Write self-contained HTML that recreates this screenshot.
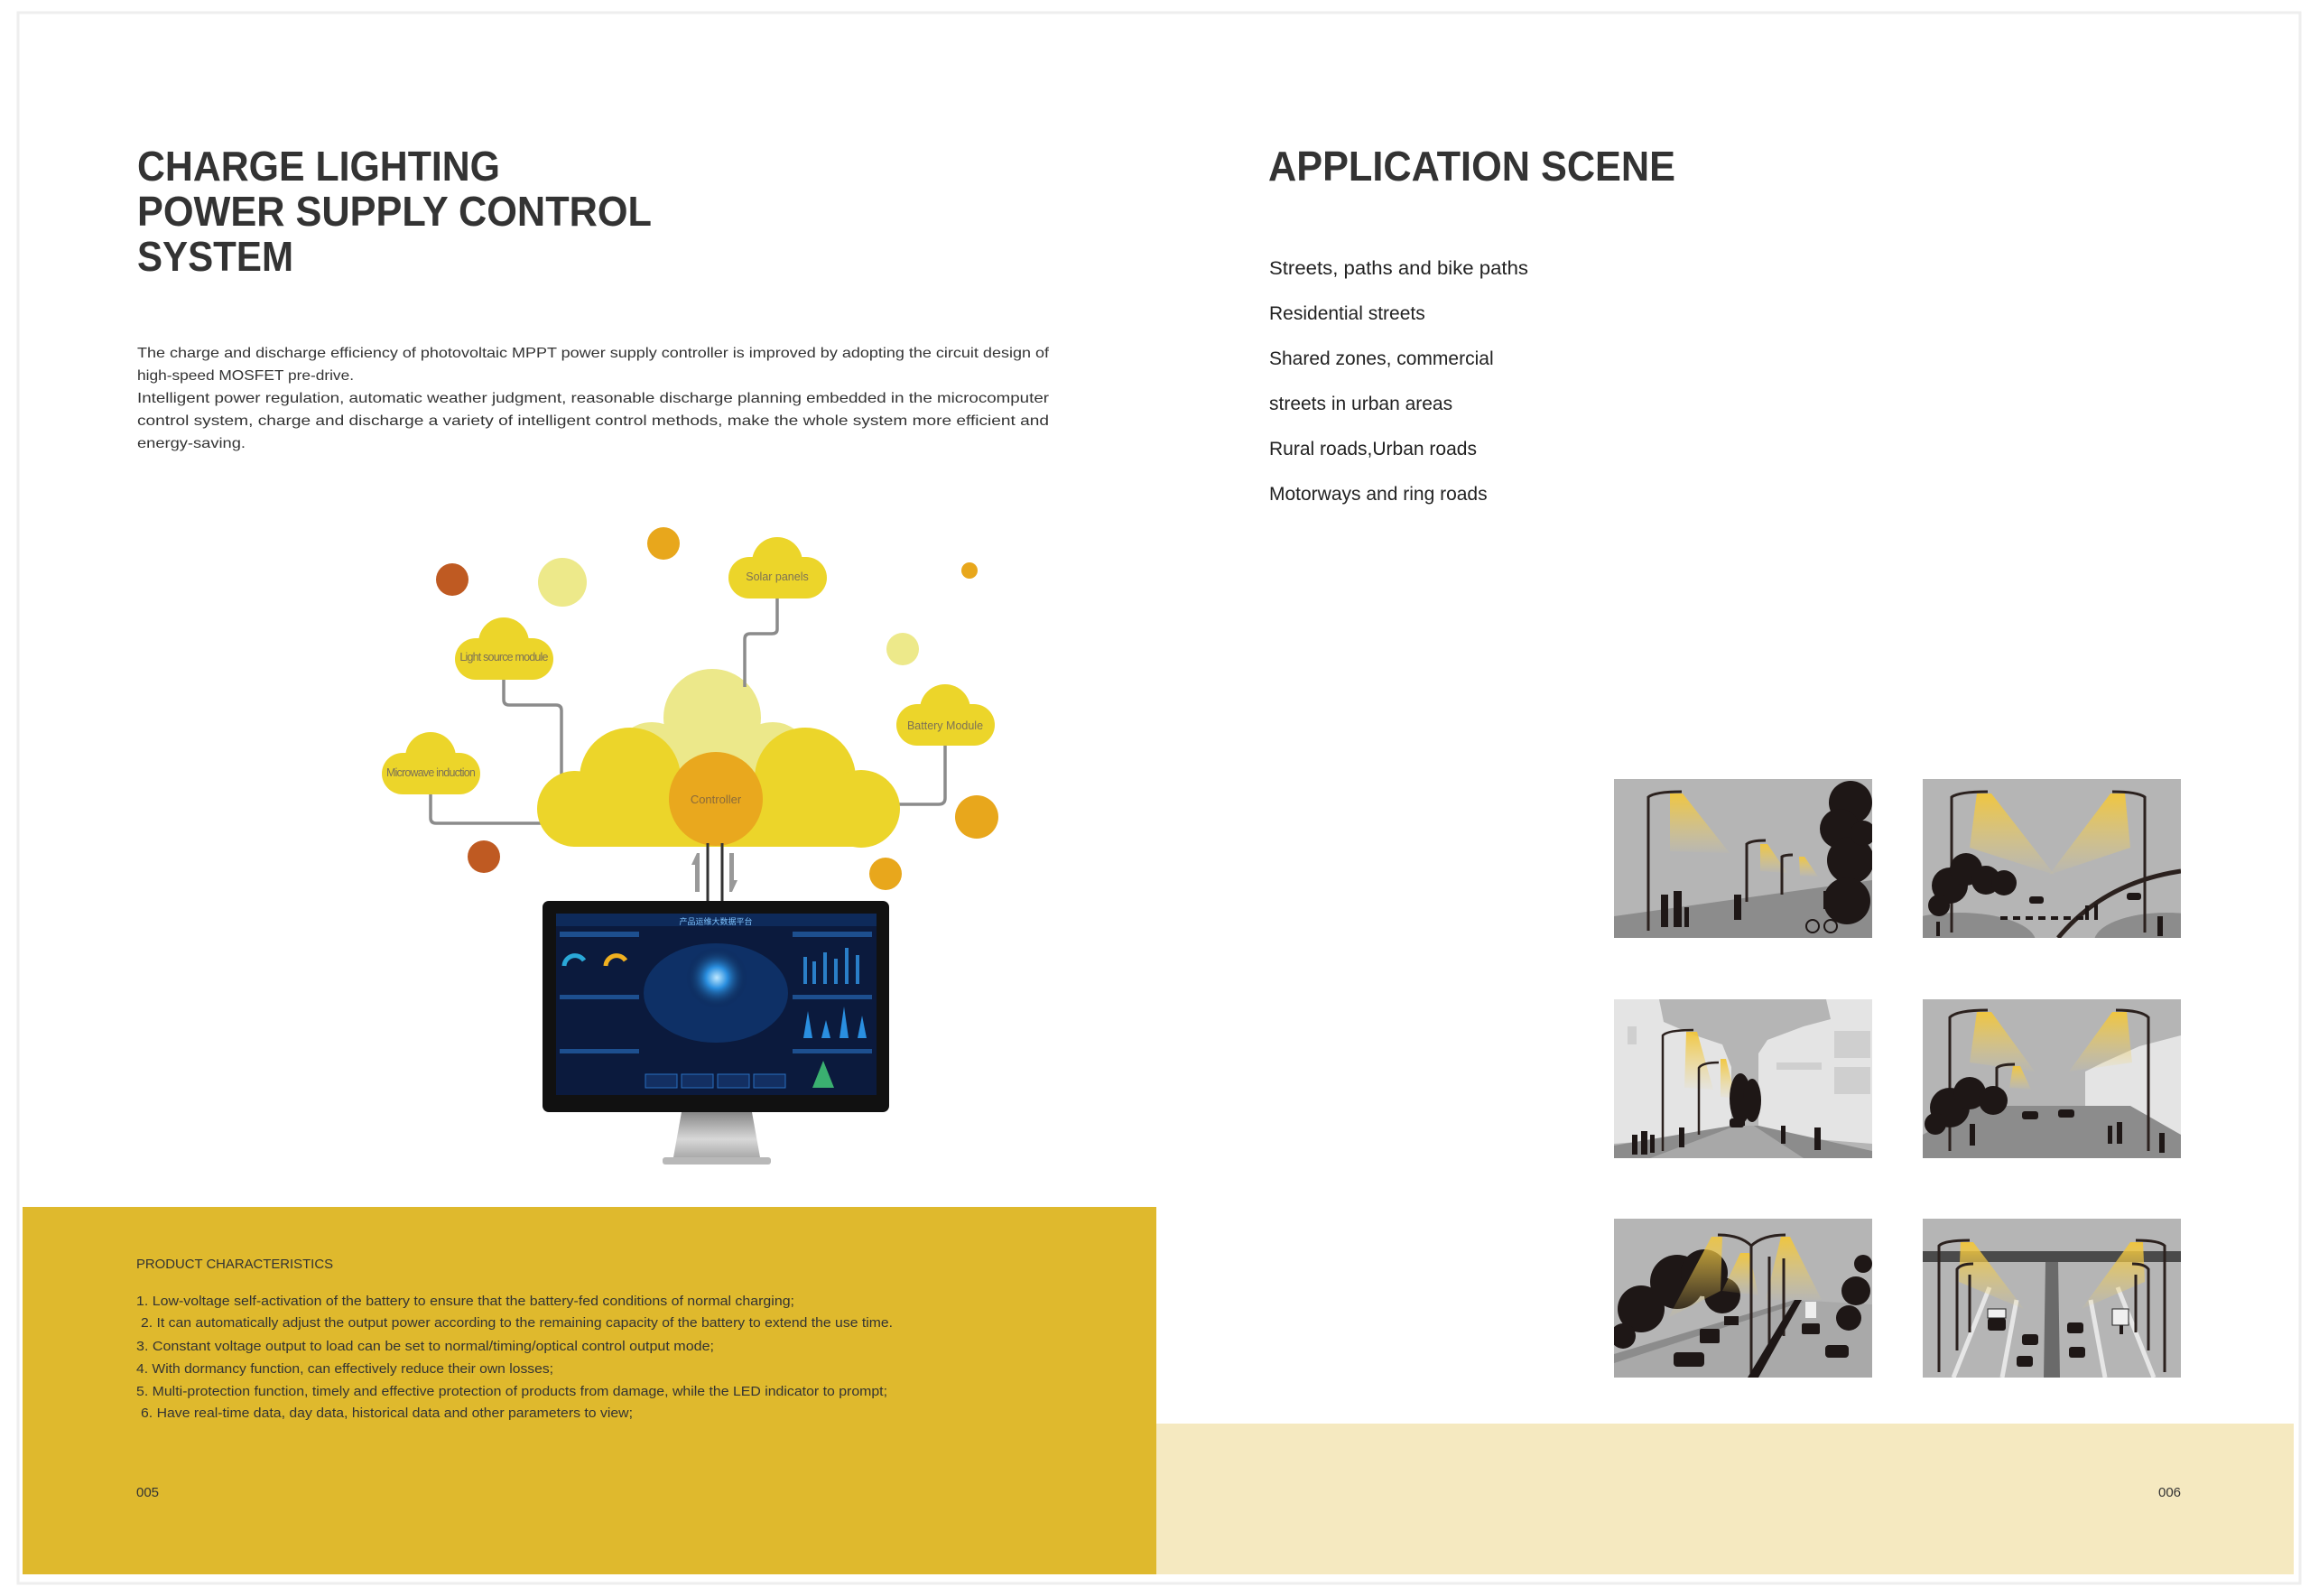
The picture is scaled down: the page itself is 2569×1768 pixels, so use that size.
<!DOCTYPE html>
<html><head><meta charset="utf-8"><style>
html,body{margin:0;padding:0;background:#fff;}
svg{display:block;}
text{font-family:"Liberation Sans","Noto Sans CJK SC",sans-serif;}
</style></head><body>
<svg width="2569" height="1768" viewBox="0 0 2569 1768" xmlns="http://www.w3.org/2000/svg">
<defs>
<linearGradient id="cone" x1="0" y1="0" x2="0" y2="1">
<stop offset="0" stop-color="#f2c63a" stop-opacity="0.95"/><stop offset="1" stop-color="#f2d46a" stop-opacity="0.05"/></linearGradient>
<radialGradient id="glow" cx="0.5" cy="0.5" r="0.5">
<stop offset="0" stop-color="#bfe8ff"/><stop offset="0.35" stop-color="#2a8fe0"/><stop offset="1" stop-color="#0b1a3d" stop-opacity="0"/></radialGradient>
<linearGradient id="stand" x1="0" y1="0" x2="0" y2="1"><stop offset="0" stop-color="#888"/><stop offset="0.6" stop-color="#d8d8d8"/><stop offset="1" stop-color="#aaa"/></linearGradient>
<clipPath id="sc"><rect width="286" height="176"/></clipPath>
</defs>
<rect width="2569" height="1768" fill="#fff"/>
<rect x="20" y="14" width="2528" height="1740" fill="none" stroke="#eee" stroke-width="3"/>
<rect x="25" y="1337" width="1256" height="407" fill="#dfb92d"/>
<rect x="1281" y="1577" width="1260" height="167" fill="#f5e9c0"/>

<g fill="#333" font-weight="bold" font-size="46">
<text x="152" y="200" textLength="402" lengthAdjust="spacingAndGlyphs">CHARGE LIGHTING</text>
<text x="152" y="250" textLength="570" lengthAdjust="spacingAndGlyphs">POWER SUPPLY CONTROL</text>
<text x="152" y="300" textLength="173" lengthAdjust="spacingAndGlyphs">SYSTEM</text>
<text x="1405" y="200" textLength="451" lengthAdjust="spacingAndGlyphs">APPLICATION SCENE</text>
</g>
<g fill="#333" font-size="16">
<text x="152" y="396" textLength="1010" lengthAdjust="spacingAndGlyphs">The charge and discharge efficiency of photovoltaic MPPT power supply controller is improved by adopting the circuit design of</text>
<text x="152" y="421" textLength="240" lengthAdjust="spacingAndGlyphs">high-speed MOSFET pre-drive.</text>
<text x="152" y="446" textLength="1010" lengthAdjust="spacingAndGlyphs">Intelligent power regulation, automatic weather judgment, reasonable discharge planning embedded in the microcomputer</text>
<text x="152" y="471" textLength="1010" lengthAdjust="spacingAndGlyphs">control system, charge and discharge a variety of intelligent control methods, make the whole system more efficient and</text>
<text x="152" y="496" textLength="120" lengthAdjust="spacingAndGlyphs">energy-saving.</text>
</g>
<g fill="#222" font-size="21">
<text x="1406" y="304" textLength="287" lengthAdjust="spacingAndGlyphs">Streets, paths and bike paths</text>
<text x="1406" y="354">Residential streets</text>
<text x="1406" y="404">Shared zones, commercial</text>
<text x="1406" y="454">streets in urban areas</text>
<text x="1406" y="504">Rural roads,Urban roads</text>
<text x="1406" y="554">Motorways and ring roads</text>
</g>
<g fill="#333" font-size="15">
<text x="151" y="1405" textLength="218" lengthAdjust="spacingAndGlyphs">PRODUCT CHARACTERISTICS</text>
<text x="151" y="1446" textLength="729" lengthAdjust="spacingAndGlyphs">1. Low-voltage self-activation of the battery to ensure that the battery-fed conditions of normal charging;</text>
<text x="156" y="1470" textLength="833" lengthAdjust="spacingAndGlyphs">2. It can automatically adjust the output power according to the remaining capacity of the battery to extend the use time.</text>
<text x="151" y="1496" textLength="640" lengthAdjust="spacingAndGlyphs">3. Constant voltage output to load can be set to normal/timing/optical control output mode;</text>
<text x="151" y="1521" textLength="462" lengthAdjust="spacingAndGlyphs">4. With dormancy function, can effectively reduce their own losses;</text>
<text x="151" y="1546" textLength="832" lengthAdjust="spacingAndGlyphs">5. Multi-protection function, timely and effective protection of products from damage, while the LED indicator to prompt;</text>
<text x="156" y="1570" textLength="545" lengthAdjust="spacingAndGlyphs">6. Have real-time data, day data, historical data and other parameters to view;</text>
<text x="151" y="1658">005</text>
<text x="2391" y="1658">006</text>
</g>

<g>
<circle cx="735" cy="602" r="18" fill="#e8a71c"/>
<circle cx="501" cy="642" r="18" fill="#bf5a22"/>
<circle cx="623" cy="645" r="27" fill="#ede98a"/>
<circle cx="1074" cy="632" r="9" fill="#e8a71c"/>
<circle cx="1000" cy="719" r="18" fill="#ede98a"/>
<circle cx="1082" cy="905" r="24" fill="#e8a71c"/>
<circle cx="981" cy="968" r="18" fill="#e8a71c"/>
<circle cx="536" cy="949" r="18" fill="#bf5a22"/>
<g fill="#ece88a"><circle cx="789" cy="795" r="54"/><circle cx="722" cy="842" r="42"/><circle cx="856" cy="842" r="42"/></g>
<g fill="none" stroke="#8b8b8b" stroke-width="3.5" stroke-linejoin="round">
<path d="M861 663 V697 Q861 702 855 702 H831 Q825 702 825 708 V761"/>
<path d="M558 752 V775 Q558 781 564 781 H616 Q622 781 622 787 V864"/>
<path d="M477 879 V906 Q477 912 483 912 H605"/>
<path d="M1047 826 V884 Q1047 891 1040 891 H990"/>
</g>
<g fill="#ecd52a">
<circle cx="637" cy="896" r="42"/><circle cx="698" cy="862" r="56"/><circle cx="892" cy="862" r="56"/><circle cx="954" cy="896" r="43"/>
<rect x="637" y="880" width="318" height="58"/>
</g>
<circle cx="793" cy="885" r="52" fill="#e9a81e"/>
<text x="793" y="890" text-anchor="middle" font-size="13" fill="#8a6a3a">Controller</text>
<g fill="#ecd52a">
<circle cx="861" cy="623" r="28"/><rect x="807" y="617" width="109" height="46" rx="23"/>
<circle cx="558" cy="712" r="28"/><rect x="504" y="707" width="109" height="46" rx="23"/>
<circle cx="477" cy="839" r="28"/><rect x="423" y="834" width="109" height="46" rx="23"/>
<circle cx="1047" cy="786" r="28"/><rect x="993" y="780" width="109" height="46" rx="23"/>
</g>
<g font-size="12.5" fill="#7d7255" text-anchor="middle">
<text x="861" y="643">Solar panels</text>
<text x="558" y="732" letter-spacing="-0.8">Light source module</text>
<text x="477" y="860" letter-spacing="-0.8">Microwave induction</text>
<text x="1047" y="808">Battery Module</text>
</g>
<g stroke="#333" stroke-width="3"><line x1="784" y1="934" x2="784" y2="998"/><line x1="800" y1="934" x2="800" y2="998"/></g>
<polygon points="772,945 766,958 770,958 770,988 775,988 775,945" fill="#999"/>
<polygon points="811,988 817,975 813,975 813,945 808,945 808,988" fill="#999"/>
<polygon points="755,1232 833,1232 842,1282 746,1282" fill="url(#stand)"/>
<rect x="734" y="1282" width="120" height="8" rx="3" fill="#b8b8b8"/>
<rect x="601" y="998" width="384" height="234" rx="7" fill="#111"/>
<rect x="616" y="1012" width="355" height="201" fill="#0b1a3d"/>
<rect x="616" y="1012" width="355" height="14" fill="#0e2a5a"/>
<text x="793" y="1024" text-anchor="middle" font-size="9" fill="#7fc4ff">产品运维大数据平台</text>
<ellipse cx="793" cy="1100" rx="80" ry="55" fill="#0f3a78" opacity="0.7"/>
<circle cx="794" cy="1083" r="34" fill="url(#glow)"/>
<g fill="#1d4f8f"><rect x="620" y="1032" width="88" height="6"/><rect x="878" y="1032" width="88" height="6"/><rect x="620" y="1102" width="88" height="5"/><rect x="878" y="1102" width="88" height="5"/><rect x="620" y="1162" width="88" height="5"/><rect x="878" y="1162" width="88" height="5"/></g>
<g fill="none" stroke-width="5"><path d="M625 1070 a12 12 0 0 1 22 -6" stroke="#2aa8d8"/><path d="M671 1070 a12 12 0 0 1 22 -6" stroke="#f0b020"/></g>
<g fill="#2a7fc8"><rect x="890" y="1060" width="4" height="30"/><rect x="900" y="1065" width="4" height="25"/><rect x="912" y="1055" width="4" height="35"/><rect x="924" y="1062" width="4" height="28"/><rect x="936" y="1050" width="4" height="40"/><rect x="948" y="1058" width="4" height="32"/></g>
<g fill="#2a8fe0"><polygon points="890,1150 895,1120 900,1150"/><polygon points="910,1150 915,1130 920,1150"/><polygon points="930,1150 935,1115 940,1150"/><polygon points="950,1150 955,1125 960,1150"/></g>
<polygon points="900,1205 912,1175 924,1205" fill="#3ab070"/>
<g fill="#132f62" stroke="#2a6fc0"><rect x="715" y="1190" width="35" height="15"/><rect x="755" y="1190" width="35" height="15"/><rect x="795" y="1190" width="35" height="15"/><rect x="835" y="1190" width="35" height="15"/></g>
</g>

<!-- 1 -->
<g transform="translate(1788,863)"><g clip-path="url(#sc)">
<rect width="286" height="176" fill="#b5b5b5"/>
<polygon points="0,152 286,112 286,176 0,176" fill="#8c8c8c"/>
<polygon points="62,16 76,16 128,82 62,80" fill="url(#cone)"/>
<polygon points="162,72 170,72 192,104 162,102" fill="url(#cone)"/>
<polygon points="205,86 211,86 226,108 206,107" fill="url(#cone)"/>
<g stroke="#2b211e" stroke-width="3" fill="none"><path d="M38 168 V20 Q45 14 75 14"/><path d="M147 136 V72 Q152 68 168 68"/><path d="M186 128 V86 Q189 84 198 84"/></g>
<g fill="#1e1716"><circle cx="262" cy="26" r="24"/><circle cx="250" cy="55" r="22"/><circle cx="262" cy="90" r="26"/><circle cx="258" cy="135" r="26"/><circle cx="276" cy="60" r="14"/>
<rect x="52" y="128" width="8" height="36"/><rect x="66" y="124" width="9" height="40"/><rect x="78" y="142" width="5" height="22"/><rect x="133" y="128" width="8" height="28"/><rect x="232" y="124" width="5" height="20"/></g>
<g fill="none" stroke="#1e1716" stroke-width="2"><circle cx="220" cy="163" r="7"/><circle cx="240" cy="163" r="7"/></g>
</g></g>
<!-- 2 -->
<g transform="translate(2130,863)"><g clip-path="url(#sc)">
<rect width="286" height="176" fill="#b5b5b5"/>
<ellipse cx="40" cy="180" rx="85" ry="32" fill="#8c8c8c"/><ellipse cx="270" cy="180" rx="80" ry="32" fill="#8c8c8c"/>
<polygon points="60,16 76,16 146,106 52,76" fill="url(#cone)"/>
<polygon points="208,16 224,16 230,76 140,106" fill="url(#cone)"/>
<g stroke="#2b211e" stroke-width="3" fill="none"><path d="M32 170 V20 Q40 14 72 14"/><path d="M246 170 V20 Q238 14 210 14"/><path d="M150 176 Q200 115 286 102" stroke-width="5"/></g>
<g fill="#1e1716"><circle cx="30" cy="118" r="20"/><circle cx="48" cy="100" r="18"/><circle cx="70" cy="112" r="16"/><circle cx="90" cy="115" r="14"/><circle cx="18" cy="140" r="12"/>
<rect x="118" y="130" width="16" height="8" rx="3"/><rect x="226" y="126" width="16" height="8" rx="3"/><rect x="260" y="152" width="6" height="22"/><rect x="15" y="158" width="4" height="16"/>
<rect x="180" y="140" width="4" height="16"/><rect x="190" y="138" width="4" height="18"/></g>
<g fill="#1e1716"><rect x="86" y="152" width="8" height="4"/><rect x="100" y="152" width="8" height="4"/><rect x="114" y="152" width="8" height="4"/><rect x="128" y="152" width="8" height="4"/><rect x="142" y="152" width="8" height="4"/><rect x="156" y="152" width="8" height="4"/><rect x="170" y="152" width="8" height="4"/></g>
</g></g>
<!-- 3 -->
<g transform="translate(1788,1107)"><g clip-path="url(#sc)">
<rect width="286" height="176" fill="#b5b5b5"/>
<polygon points="0,0 50,0 55,25 90,40 120,50 130,75 130,150 0,160" fill="#e4e4e4"/>
<polygon points="286,0 235,0 240,22 210,30 170,45 160,60 160,150 286,160" fill="#e4e4e4"/>
<g fill="#cfcfcf"><rect x="15" y="30" width="10" height="20"/><rect x="244" y="35" width="40" height="30"/><rect x="244" y="75" width="40" height="30"/><rect x="180" y="70" width="50" height="8"/></g>
<polygon points="0,176 0,162 130,140 160,140 286,168 286,176" fill="#8c8c8c"/>
<polygon points="40,176 135,140 155,140 210,176" fill="#a8a8a8"/>
<polygon points="80,36 92,36 110,100 78,98" fill="url(#cone)"/>
<polygon points="118,66 124,66 135,110 118,108" fill="url(#cone)"/>
<g stroke="#2b211e" stroke-width="2.5" fill="none"><path d="M54 168 V40 Q60 34 88 34"/><path d="M94 150 V76 Q98 70 116 70"/></g>
<g fill="#1e1716"><ellipse cx="140" cy="110" rx="12" ry="28"/><ellipse cx="153" cy="112" rx="10" ry="24"/><rect x="142" y="110" width="3" height="30"/>
<rect x="128" y="132" width="16" height="10" rx="3"/><rect x="20" y="150" width="6" height="22"/><rect x="30" y="146" width="7" height="26"/><rect x="40" y="150" width="5" height="20"/><rect x="72" y="142" width="6" height="22"/><rect x="185" y="140" width="5" height="20"/><rect x="222" y="142" width="7" height="25"/></g>
</g></g>
<!-- 4 -->
<g transform="translate(2130,1107)"><g clip-path="url(#sc)">
<rect width="286" height="176" fill="#b5b5b5"/>
<polygon points="286,40 240,52 200,70 180,80 180,125 286,150" fill="#e4e4e4"/>
<polygon points="0,150 60,118 230,118 286,150 286,176 0,176" fill="#8c8c8c"/>
<polygon points="60,14 76,14 124,80 52,70" fill="url(#cone)"/>
<polygon points="210,14 226,14 232,70 162,80" fill="url(#cone)"/>
<polygon points="100,74 108,74 120,100 96,98" fill="url(#cone)"/>
<g stroke="#2b211e" stroke-width="3" fill="none"><path d="M30 168 V20 Q38 12 72 12"/><path d="M250 168 V20 Q242 12 214 12"/><path d="M82 124 V76 Q86 72 102 72"/></g>
<g fill="#1e1716"><circle cx="30" cy="120" r="22"/><circle cx="52" cy="104" r="18"/><circle cx="78" cy="112" r="16"/><circle cx="14" cy="138" r="12"/>
<rect x="110" y="124" width="18" height="9" rx="3"/><rect x="150" y="122" width="18" height="9" rx="3"/><rect x="52" y="138" width="6" height="24"/><rect x="205" y="140" width="5" height="20"/><rect x="215" y="136" width="6" height="24"/><rect x="262" y="148" width="6" height="22"/></g>
</g></g>
<!-- 5 -->
<g transform="translate(1788,1350)"><g clip-path="url(#sc)">
<rect width="286" height="176" fill="#b5b5b5"/>
<polygon points="0,155 200,90 286,95 286,176 0,176" fill="#a9a9a9"/>
<polygon points="0,150 200,90 210,92 0,160" fill="#8c8c8c"/>
<g fill="#1e1716"><circle cx="30" cy="100" r="26"/><circle cx="70" cy="70" r="30"/><circle cx="100" cy="60" r="26"/><circle cx="120" cy="85" r="20"/><circle cx="10" cy="130" r="14"/><circle cx="268" cy="80" r="16"/><circle cx="276" cy="50" r="10"/><circle cx="260" cy="110" r="14"/></g>
<polygon points="108,20 120,20 118,80 60,110" fill="url(#cone)" opacity="0.9"/>
<polygon points="185,20 195,20 230,90 168,90" fill="url(#cone)"/>
<polygon points="140,38 150,38 160,85 120,80" fill="url(#cone)"/>
<g stroke="#2b211e" stroke-width="3" fill="none"><path d="M152 176 V30 Q140 18 115 18"/><path d="M152 30 Q165 18 190 18"/><path d="M172 140 V42"/><path d="M188 130 V44"/></g>
<polygon points="148,176 200,90 208,90 160,176" fill="#1e1716"/>
<g fill="#1e1716"><rect x="66" y="148" width="34" height="16" rx="4"/><rect x="95" y="122" width="22" height="16" rx="2"/><rect x="208" y="116" width="20" height="12" rx="2"/><rect x="234" y="140" width="26" height="14" rx="4"/><rect x="122" y="108" width="16" height="10"/></g>
<rect x="212" y="92" width="12" height="18" fill="#eee"/>
</g></g>
<!-- 6 -->
<g transform="translate(2130,1350)"><g clip-path="url(#sc)">
<rect width="286" height="176" fill="#b5b5b5"/>
<rect x="0" y="36" width="286" height="12" fill="#4a4a4a"/>
<polygon points="136,48 150,48 152,176 134,176" fill="#6a6a6a"/>
<g stroke="#e6e6e6" stroke-width="5"><line x1="34" y1="176" x2="74" y2="76"/><line x1="88" y1="176" x2="104" y2="90"/><line x1="202" y1="176" x2="186" y2="90"/><line x1="256" y1="176" x2="216" y2="76"/></g>
<polygon points="42,26 56,26 112,100 40,70" fill="url(#cone)"/>
<polygon points="230,26 244,26 246,70 176,100" fill="url(#cone)"/>
<g stroke="#2b211e" stroke-width="3" fill="none"><path d="M18 170 V30 Q24 24 52 24"/><path d="M268 170 V30 Q262 24 236 24"/><path d="M38 146 V56 Q42 50 56 50"/><path d="M250 146 V56 Q246 50 232 50"/><path d="M52 126 V62"/><path d="M236 126 V62"/></g>
<g fill="#1e1716"><rect x="72" y="110" width="20" height="14" rx="3"/><rect x="110" y="128" width="18" height="12" rx="3"/><rect x="104" y="152" width="18" height="12" rx="3"/><rect x="160" y="115" width="18" height="12" rx="3"/><rect x="162" y="142" width="18" height="12" rx="3"/><rect x="218" y="118" width="4" height="10"/></g>
<rect x="210" y="100" width="18" height="18" fill="#f0f0f0" stroke="#222"/>
<rect x="72" y="100" width="20" height="10" fill="#f0f0f0" stroke="#222"/>
</g></g>
</svg>
</body></html>
